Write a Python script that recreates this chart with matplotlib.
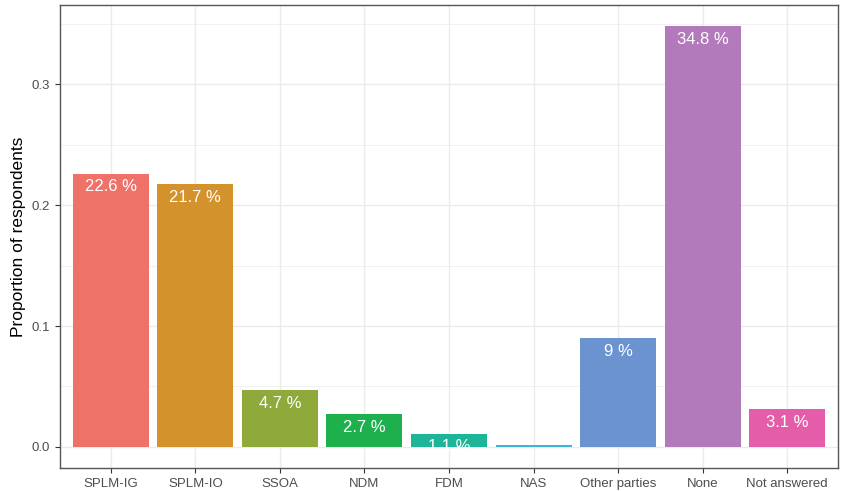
import matplotlib.pyplot as plt
import numpy as np

plt.rcParams['font.family'] = ['Liberation Sans', 'DejaVu Sans']

parties = ["SPLM-IG", "SPLM-IO", "SSOA", "NDM", "FDM", "NAS", "Other parties", "None", "Not answered"]
shares = [0.226, 0.217, 0.047, 0.027, 0.011, 0.002, 0.09, 0.348, 0.031]
labels = ["22.6 %", "21.7 %", "4.7 %", "2.7 %", "1.1 %", "0.2 %", "9 %", "34.8 %", "3.1 %"]
colours = ["#EE7268", "#D4922C", "#8FA93A", "#1FB04E", "#1DB598", "#3FB3D6", "#6B93CF", "#B27ABA", "#E45DA8"]

fig = plt.figure(figsize=(8.41, 4.91), dpi=100)
ax = fig.add_axes([60/841, 23/491, 778/841, 463/491])

x = np.arange(1, len(parties) + 1)
ax.bar(x, shares, width=0.9, color=colours, zorder=3)

for xi, v, lab in zip(x, shares, labels):
    ax.annotate(lab, (xi, v), xytext=(0, -4), textcoords="offset points",
                ha="center", va="top", color="white", fontsize=12, zorder=4)

ax.set_xlim(0.4, 9.6)
ax.set_ylim(-0.0174, 0.3654)
ax.set_xticks(x)
ax.set_xticklabels(parties)
ax.set_yticks([0.0, 0.1, 0.2, 0.3])
ax.set_yticklabels(["0.0", "0.1", "0.2", "0.3"])
ax.set_yticks([0.05, 0.15, 0.25, 0.35], minor=True)
ax.tick_params(axis="both", which="major", length=3.5, color="#333333", labelcolor="#4D4D4D", labelsize=9.5)
ax.tick_params(axis="y", which="minor", length=0)
ax.grid(True, which="major", color="#EBEBEB", linewidth=1.0, zorder=0)
ax.grid(True, which="minor", axis="y", color="#EBEBEB", linewidth=0.5, zorder=0)
for s in ax.spines.values():
    s.set_color("#555555")
    s.set_linewidth(1.0)

ax.set_ylabel("Proportion of respondents", fontsize=12.5, color="black")

fig.savefig("out.png", dpi=100)
